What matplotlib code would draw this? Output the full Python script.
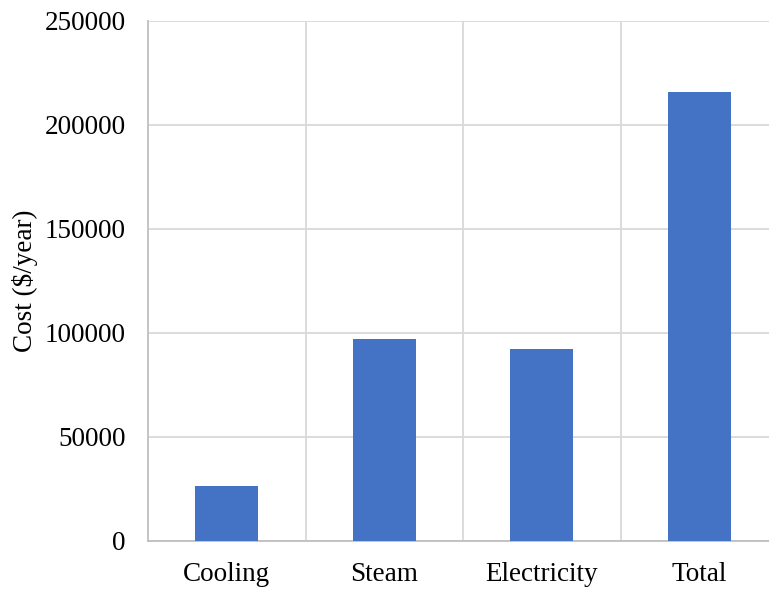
import matplotlib.pyplot as plt

categories = ["Cooling", "Steam", "Electricity", "Total"]
costs = [26500, 97000, 92000, 215500]
y_ticks = [0, 50000, 100000, 150000, 200000, 250000]

plt.rcParams['font.family'] = ['Liberation Serif', 'DejaVu Serif']

fig = plt.figure(figsize=(7.69, 5.90), dpi=100)
# plot area runs slightly past the right edge of the canvas
ax = fig.add_axes([148 / 769, 49 / 590, 630 / 769, 520.5 / 590])

x = range(len(categories))
ax.bar(x, costs, width=0.4, color="#4472C4", zorder=3)

ax.set_xlim(-0.5, len(categories) - 0.5)
ax.set_ylim(0, 250000)
ax.set_yticks(y_ticks)
ax.set_yticklabels([str(t) for t in y_ticks])
ax.set_xticks(list(x))
ax.set_xticklabels(categories)

# horizontal grid at each tick, vertical lines between categories
ax.grid(axis="y", color="#D9D9D9", linewidth=1.3, zorder=0)
for b in [0.5, 1.5, 2.5]:
    ax.axvline(b, color="#D9D9D9", linewidth=1.3, zorder=0)

for side in ["top", "right"]:
    ax.spines[side].set_visible(False)
for side in ["left", "bottom"]:
    ax.spines[side].set_color("#BFBFBF")
    ax.spines[side].set_linewidth(1.3)

ax.tick_params(length=0, labelsize=19.5)
ax.tick_params(axis="y", pad=16)
ax.tick_params(axis="x", pad=15)
ax.set_ylabel("Cost ($/year)", fontsize=19.5, labelpad=5)

fig.savefig("out.png", dpi=100)
